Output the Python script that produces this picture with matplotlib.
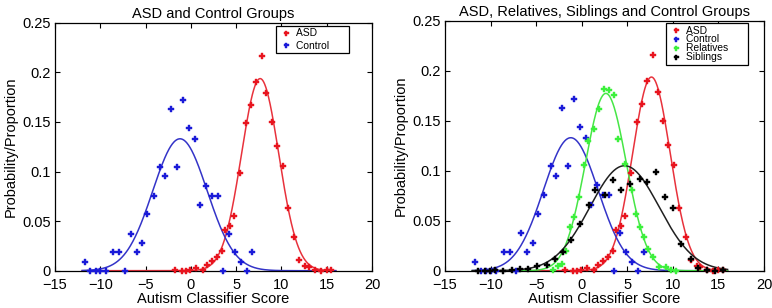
import numpy as np
import matplotlib
matplotlib.use("Agg")
import matplotlib.pyplot as plt

plt.rcParams['font.family'] = ['Liberation Sans', 'DejaVu Sans']

# ---- data ----
asd_x = [-1.8, -1.0, -0.5, -0.1, 0.6, 1.3, 1.75, 2.3, 2.9, 3.4, 3.75, 4.3, 4.8, 5.4, 6.05, 6.6,
         7.15, 7.8, 8.35, 8.95, 9.5, 10.15, 10.7, 11.4, 11.95, 12.6, 13.0, 13.7, 14.4, 15.0, 15.5]
asd_y = [0.001, 0.0, 0.0, 0.001, 0.003, 0.001, 0.006, 0.010, 0.014, 0.020, 0.041, 0.045, 0.055,
         0.098, 0.149, 0.167, 0.190, 0.216, 0.179, 0.150, 0.126, 0.106, 0.063, 0.034, 0.011,
         0.005, 0.004, 0.001, 0.0, 0.001, 0.001]

ctrl_x = [-11.7, -11.1, -10.5, -10.0, -9.4, -8.55, -7.9, -7.25, -6.65, -6.0, -5.35, -4.8, -4.1,
          -3.4, -2.8, -2.2, -1.55, -0.9, -0.2, 0.45, 1.0, 1.65, 2.3, 2.95, 3.55, 4.2, 4.85, 5.5,
          6.15, 6.8]
ctrl_y = [0.009, 0.0, 0.0, 0.0, 0.0, 0.0185, 0.0185, 0.0, 0.0375, 0.0185, 0.028, 0.057, 0.0755,
          0.105, 0.095, 0.163, 0.105, 0.172, 0.1435, 0.133, 0.066, 0.0855, 0.0755, 0.0755, 0.0,
          0.0375, 0.0185, 0.009, 0.0, 0.0185]

rel_x = [-3.1, -2.6, -2.2, -1.7, -1.3, -0.9, -0.25, 0.2, 0.7, 1.35, 1.95, 2.45, 3.0, 3.55, 4.0,
         4.75, 5.5, 6.0, 6.4, 6.85, 7.3, 7.8, 8.5, 9.25, 9.8, 10.35]
rel_y = [0.001, 0.005, 0.007, 0.020, 0.044, 0.054, 0.074, 0.106, 0.130, 0.142, 0.162, 0.182,
         0.181, 0.176, 0.132, 0.107, 0.081, 0.057, 0.044, 0.034, 0.022, 0.014, 0.004, 0.004,
         0.001, 0.0]

sib_x = [-11.35, -10.6, -10.05, -9.5, -8.6, -7.7, -6.8, -5.85, -4.95, -3.85, -2.95, -2.0, -1.2,
         -0.2, 0.8, 1.5, 2.5, 3.45, 4.3, 5.3, 6.4, 7.2, 8.2, 9.15, 10.05, 10.9, 11.95, 12.8,
         13.7, 14.6, 15.5]
sib_y = [0.0, 0.0, 0.0, 0.001, 0.0, 0.001, 0.0015, 0.0015, 0.005, 0.006, 0.012, 0.019, 0.031,
         0.047, 0.066, 0.081, 0.076, 0.091, 0.081, 0.087, 0.092, 0.089, 0.099, 0.074, 0.063,
         0.027, 0.012, 0.003, 0.001, 0.0, 0.001]

# Gaussian fit parameters (mean, sigma)
fit_mean = {'ASD': 7.65, 'Control': -1.2, 'Relatives': 2.65, 'Siblings': 4.7}
fit_sigma = {'ASD': 2.06, 'Control': 3.0, 'Relatives': 2.25, 'Siblings': 3.8}

colors = {'ASD': '#e8141e', 'Control': '#1a1ad8', 'Relatives': '#3cf03c', 'Siblings': '#000000'}
curve_colors = {'ASD': '#e8323c', 'Control': '#3434c8', 'Relatives': '#46e646', 'Siblings': '#202020'}

points = {'ASD': (asd_x, asd_y), 'Control': (ctrl_x, ctrl_y),
          'Relatives': (rel_x, rel_y), 'Siblings': (sib_x, sib_y)}

xs = np.linspace(-12, 16, 600)


def gauss(x, m, s):
    return np.exp(-0.5 * ((x - m) / s) ** 2) / (s * np.sqrt(2 * np.pi))


fig = plt.figure(figsize=(7.72, 3.08), dpi=100)
ax1 = fig.add_axes([55 / 772, (308 - 270.7) / 308, 317 / 772, 248 / 308])
ax2 = fig.add_axes([445 / 772, (308 - 270.7) / 308, 319 / 772, 250 / 308])


def draw(ax, groups, title, leg_anchor, lspace):
    for g in groups:
        ax.plot(xs, gauss(xs, fit_mean[g], fit_sigma[g]), color=curve_colors[g], lw=1.1, zorder=2)
    handles = []
    for g in groups:
        px, py = points[g]
        h, = ax.plot(px, py, linestyle='none', marker='P', markersize=4.5, markeredgewidth=0.3,
                     color=colors[g], label=g + '      ', zorder=3, clip_on=False)
        handles.append(h)
    ax.set_xlim(-15, 20)
    ax.set_ylim(0, 0.25)
    ax.set_xticks([-15, -10, -5, 0, 5, 10, 15, 20])
    ax.set_yticks([0, 0.05, 0.1, 0.15, 0.2, 0.25])
    ax.set_yticklabels(['0', '0.05', '0.1', '0.15', '0.2', '0.25'])
    ax.tick_params(direction='in', top=True, right=True, length=3.5, width=0.8,
                   labelsize=10.5, pad=3)
    ax.tick_params(axis='x', pad=5.5)
    for s in ax.spines.values():
        s.set_linewidth(0.9)
    ax.set_title(title, fontsize=10.5, pad=3.5)
    ax.set_xlabel('Autism Classifier Score', fontsize=10.5, labelpad=0)
    ax.set_ylabel('Probability/Proportion', fontsize=10.5, labelpad=3)
    leg = ax.legend(handles=handles, loc='upper right', bbox_to_anchor=leg_anchor,
                    borderaxespad=0, fontsize=7.4, frameon=True, fancybox=False,
                    edgecolor='black', framealpha=1, borderpad=0.25, labelspacing=lspace,
                    handlelength=1.5, handletextpad=0.2, markerscale=0.8)
    leg.get_frame().set_linewidth(0.9)


draw(ax1, ['ASD', 'Control'], 'ASD and Control Groups', (0.927, 0.987), 0.2)
draw(ax2, ['ASD', 'Control', 'Relatives', 'Siblings'],
     'ASD, Relatives, Siblings and Control Groups', (0.95, 0.991), -0.1)

fig.savefig('out.png', dpi=100)
